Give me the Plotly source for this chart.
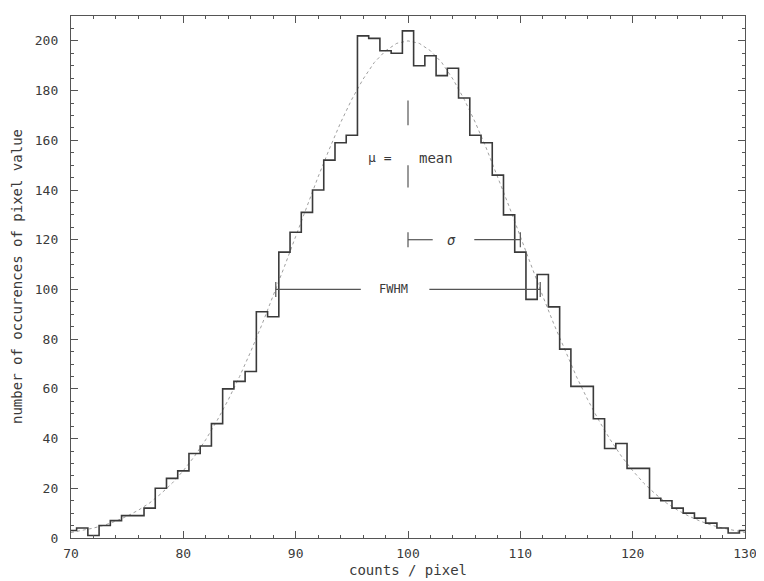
import plotly.graph_objects as go

# ---------------- data ----------------
pixel_values = list(range(70, 131))  # counts / pixel (bin centres)

occurrences = [
    3, 4, 1, 5, 7, 9, 9, 12, 20, 24,          # 70-79
    27, 34, 37, 46, 60, 63, 67, 91, 89, 115,  # 80-89
    123, 131, 140, 152, 159, 162, 202, 201, 196, 195,  # 90-99
    204, 190, 194, 186, 189, 177, 162, 159, 146, 130,  # 100-109
    115, 96, 106, 93, 76, 61, 61, 48, 36, 38,  # 110-119
    28, 28, 16, 15, 12, 10, 8, 6, 4, 2,        # 120-129
    3,                                          # 130
]

gauss_fit = [
    2.2, 3.0, 4.0, 5.2, 6.8, 8.8, 11.2, 14.1, 17.8, 22.0,
    27.1, 32.9, 39.6, 47.2, 55.6, 64.9, 75.0, 85.9, 97.3, 109.2,
    121.3, 133.4, 145.3, 156.5, 167.1, 176.5, 184.6, 191.3, 196.0, 199.0,
    200.0, 199.0, 196.0, 191.3, 184.6, 176.5, 167.1, 156.5, 145.3, 133.4,
    121.3, 109.2, 97.3, 85.9, 75.0, 64.9, 55.6, 47.2, 39.6, 32.9,
    27.1, 22.0, 17.8, 14.1, 11.2, 8.8, 6.8, 5.2, 4.0, 3.0,
    2.2,
]

x_ticks = [70, 80, 90, 100, 110, 120, 130]
y_ticks = [0, 20, 40, 60, 80, 100, 120, 140, 160, 180, 200]

# annotation quantities
mu = 100
sigma = 10
half_max = 100
fwhm_half = 11.77
sigma_level = 120

ink = "#3a3a3a"
axis_col = "#555555"
mono = "DejaVu Sans Mono"

fig = go.Figure()
fig.add_trace(go.Scatter(
    x=pixel_values, y=gauss_fit, mode="lines",
    line=dict(color="#a0a0a0", width=1, dash="dot"),
    hoverinfo="skip", showlegend=False))
fig.add_trace(go.Scatter(
    x=pixel_values, y=occurrences, mode="lines",
    line=dict(color=ink, width=1.6, shape="hvh"),
    showlegend=False))

line_style = dict(color="#555555", width=1.2)
shapes = [
    # mean marker (dashed vertical at mu)
    dict(type="line", x0=mu, x1=mu, y0=166, y1=176, line=line_style),
    dict(type="line", x0=mu, x1=mu, y0=141, y1=150, line=line_style),
    # sigma marker
    dict(type="line", x0=mu, x1=mu + 2.2, y0=sigma_level, y1=sigma_level, line=line_style),
    dict(type="line", x0=mu + 5.9, x1=mu + sigma, y0=sigma_level, y1=sigma_level, line=line_style),
    dict(type="line", x0=mu, x1=mu, y0=sigma_level - 3, y1=sigma_level + 3, line=line_style),
    dict(type="line", x0=mu + sigma, x1=mu + sigma, y0=sigma_level - 3, y1=sigma_level + 3, line=line_style),
    # FWHM marker
    dict(type="line", x0=mu - fwhm_half, x1=mu - 4.2, y0=half_max, y1=half_max, line=line_style),
    dict(type="line", x0=mu + 1.9, x1=mu + fwhm_half, y0=half_max, y1=half_max, line=line_style),
    dict(type="line", x0=mu - fwhm_half, x1=mu - fwhm_half, y0=half_max - 3, y1=half_max + 3, line=line_style),
    dict(type="line", x0=mu + fwhm_half, x1=mu + fwhm_half, y0=half_max - 3, y1=half_max + 3, line=line_style),
]

txt_font = dict(family=mono, size=13, color=ink)
annotations = [
    dict(x=mu - 2.5, y=153, text="μ =", showarrow=False, font=txt_font),
    dict(x=mu + 2.5, y=153, text="mean", showarrow=False, font=dict(family=mono, size=14, color=ink)),
    dict(x=mu + 3.9, y=sigma_level, text="<i>σ</i>", showarrow=False, font=dict(family=mono, size=14, color=ink)),
    dict(x=mu - 1.3, y=half_max, text="FWHM", showarrow=False, font=dict(family=mono, size=12, color=ink)),
    dict(x=0.5, y=0, xref="paper", yref="paper", yanchor="top", yshift=-22,
         text="counts / pixel", showarrow=False, font=dict(family=mono, size=14, color=ink)),
    dict(x=0, y=0.5, xref="paper", yref="paper", xanchor="center", yanchor="middle",
         xshift=-54, textangle=-90,
         text="number of occurences of pixel value", showarrow=False,
         font=dict(family=mono, size=14, color=ink)),
]

axis_common = dict(
    showgrid=False, zeroline=False, showline=True, linecolor=axis_col, linewidth=1.3,
    mirror="ticks", ticks="inside", ticklen=7, tickwidth=1.2, tickcolor=axis_col,
    tickfont=dict(family=mono, size=13, color=ink),
)

# the page body adds an 8px offset, so the figure is drawn 8px smaller
fig.update_layout(
    width=756, height=573,
    margin=dict(l=63, r=14, t=7, b=43),
    paper_bgcolor="white", plot_bgcolor="white",
    xaxis=dict(range=[70, 130], tickvals=x_ticks, ticklabelstandoff=3,
               minor=dict(tick0=70, dtick=2, ticks="inside", ticklen=3,
                          tickcolor=axis_col, tickwidth=1), **axis_common),
    yaxis=dict(range=[0, 210], tickvals=y_ticks, ticklabelstandoff=9,
               minor=dict(tick0=0, dtick=5, ticks="inside", ticklen=3,
                          tickcolor=axis_col, tickwidth=1), **axis_common),
    shapes=shapes,
    annotations=annotations,
    showlegend=False,
)

fig.write_html("out.html")
